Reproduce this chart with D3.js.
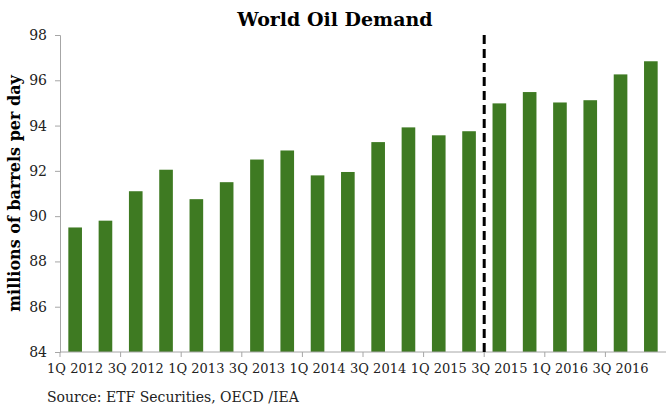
<!DOCTYPE html>
<html>
<head>
<meta charset="utf-8">
<script src="https://cdn.jsdelivr.net/npm/d3@7"></script>
<style>
  body { margin: 0; background: #fff; }
  svg { display: block; }
  svg text { font-family: Georgia, "DejaVu Serif", "Liberation Serif", serif; }
</style>
</head>
<body>
<svg id="chart" width="666" height="407"></svg>
<script>
// quarters from 1Q 2012 to 4Q 2016
var quarters = ["1Q 2012", "2Q 2012", "3Q 2012", "4Q 2012",
                "1Q 2013", "2Q 2013", "3Q 2013", "4Q 2013",
                "1Q 2014", "2Q 2014", "3Q 2014", "4Q 2014",
                "1Q 2015", "2Q 2015", "3Q 2015", "4Q 2015",
                "1Q 2016", "2Q 2016", "3Q 2016", "4Q 2016"];
var demand = [89.5, 89.8, 91.1, 92.05, 90.75, 91.5, 92.5, 92.9, 91.8, 91.95,
              93.27, 93.92, 93.57, 93.75, 94.98, 95.48, 95.02, 95.12, 96.26, 96.84];
var yTicks = [84, 86, 88, 90, 92, 94, 96, 98];
var forecastStart = "3Q 2015";

var svg = d3.select("#chart"),
    margin = {top: 35, right: 0, bottom: 55, left: 60},
    width = 666 - margin.left - margin.right,
    height = 407 - margin.top - margin.bottom;

var x = d3.scaleBand().domain(quarters).range([0, width]).paddingInner(0.55).paddingOuter(0.275);
var y = d3.scaleLinear().domain([84, 98]).range([height, 0]);

var g = svg.append("g").attr("transform", "translate(" + margin.left + "," + margin.top + ")");

// bars
g.selectAll("rect.bar")
  .data(demand)
  .enter().append("rect")
  .attr("class", "bar")
  .attr("x", (d, i) => x(quarters[i]))
  .attr("width", x.bandwidth())
  .attr("y", d => y(d))
  .attr("height", d => y(84) - y(d))
  .attr("fill", "#3e7a22");

// y axis
var yAxis = g.append("g").call(d3.axisLeft(y).tickValues(yTicks).tickSize(5).tickPadding(8));
yAxis.selectAll("text").attr("font-size", 14).attr("fill", "#222");
yAxis.select(".domain").attr("stroke", "#a6a6a6");
yAxis.selectAll(".tick line").attr("stroke", "#a6a6a6");

// x axis: ticks on category boundaries every 2 quarters, labels under every 2nd bar
var step = x.step();
var gap = (step - x.bandwidth()) / 2;
var xAxis = g.append("g").attr("transform", "translate(0," + height + ")");
xAxis.append("line").attr("x1", 0).attr("x2", width).attr("stroke", "#a6a6a6");
xAxis.selectAll("line.tick")
  .data(quarters.filter((q, i) => i % 2 == 0))
  .enter().append("line")
  .attr("class", "tick")
  .attr("x1", d => x(d) - gap)
  .attr("x2", d => x(d) - gap)
  .attr("y1", 0).attr("y2", 5)
  .attr("stroke", "#a6a6a6");
xAxis.selectAll("text")
  .data(quarters.filter((q, i) => i % 2 == 0))
  .enter().append("text")
  .attr("x", d => x(d) + x.bandwidth() / 2)
  .attr("y", 21)
  .attr("text-anchor", "middle")
  .attr("font-size", 13)
  .attr("fill", "#222")
  .text(d => d);

// dashed line where forecast starts
var fx = x(forecastStart) - gap;
g.append("line")
  .attr("x1", fx).attr("x2", fx)
  .attr("y1", 0).attr("y2", height + 4)
  .attr("stroke", "#000")
  .attr("stroke-width", 3)
  .attr("stroke-dasharray", "9,5");

// title
svg.append("text")
  .attr("x", 335).attr("y", 26)
  .attr("text-anchor", "middle")
  .attr("font-size", 19)
  .attr("font-weight", "bold")
  .text("World Oil Demand");

// y label
svg.append("text")
  .attr("transform", "translate(20," + (margin.top + height / 2) + ") rotate(-90)")
  .attr("text-anchor", "middle")
  .attr("font-size", 16)
  .attr("font-weight", "bold")
  .text("millions of barrels per day");

// source
svg.append("text")
  .attr("x", 47).attr("y", 402)
  .attr("font-size", 14)
  .attr("fill", "#222")
  .text("Source: ETF Securities, OECD /IEA");
</script>
</body>
</html>
